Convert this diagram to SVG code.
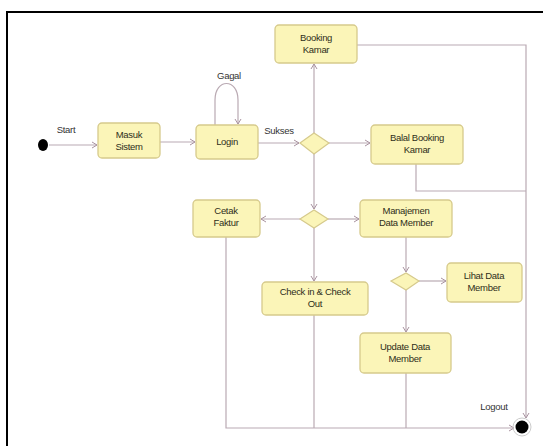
<svg xmlns="http://www.w3.org/2000/svg" width="543" height="446" viewBox="0 0 543 446">
<style>
.node rect{fill:#fbf5b8;stroke:#d6ca8c;stroke-width:1.3}
.node polygon{fill:#fbf5b8;stroke:#d6ca8c;stroke-width:1.2}
text{font-family:"Liberation Sans",Arial,sans-serif;font-size:9.5px;fill:#2e2e1a;text-anchor:middle;letter-spacing:-0.3px}
.lbl{fill:#333}
#connectors path{fill:none;stroke:#baaab3;stroke-width:1.2}
</style>
<defs>
<marker id="arr" markerWidth="8" markerHeight="8" refX="6" refY="4" orient="auto" markerUnits="userSpaceOnUse">
<path d="M1,1 L6,4 L1,7" fill="none" stroke="#a993a0" stroke-width="1"/>
</marker>
</defs>
<rect width="543" height="446" fill="#fff"/>
<path d="M7,446 V12 H543" fill="none" stroke="#000" stroke-width="2"/>

<g id="connectors">
<path d="M49,145 H97" marker-end="url(#arr)"/>
<path d="M160,142 H195" marker-end="url(#arr)"/>
<path d="M258,143 H299" marker-end="url(#arr)"/>
<path d="M215,125 V100 C215,78 238,78 238,100 V124" marker-end="url(#arr)"/>
<path d="M314,133 V64" marker-end="url(#arr)"/>
<path d="M329,143 H370" marker-end="url(#arr)"/>
<path d="M314,154 V209" marker-end="url(#arr)"/>
<path d="M300,219 H261" marker-end="url(#arr)"/>
<path d="M328,219 H359" marker-end="url(#arr)"/>
<path d="M314,228 V281" marker-end="url(#arr)"/>
<path d="M406,237 V272" marker-end="url(#arr)"/>
<path d="M419,281 H446" marker-end="url(#arr)"/>
<path d="M406,290 V332" marker-end="url(#arr)"/>
<path d="M357,45 H526 V418" marker-end="url(#arr)"/>
<path d="M416,164 V191 H526"/>
<path d="M226,237 V428 H514" marker-end="url(#arr)"/>
<path d="M314,315 V428"/>
<path d="M406,373 V428"/>
</g>

<g id="start"><ellipse cx="43" cy="145" rx="5" ry="6" fill="#000"/></g>
<text class="lbl" x="66" y="133">Start</text>
<text class="lbl" x="229" y="79">Gagal</text>
<text class="lbl" x="279" y="134">Sukses</text>
<text class="lbl" x="494" y="410">Logout</text>

<g id="masuk" class="node"><rect x="98" y="123" width="62" height="35" rx="4"/><text x="129" y="138">Masuk</text><text x="129" y="150">Sistem</text></g>
<g id="login" class="node"><rect x="196" y="125" width="62" height="34" rx="4"/><text x="227" y="145">Login</text></g>
<g id="booking" class="node"><rect x="275" y="25" width="82" height="38" rx="4"/><text x="316" y="41">Booking</text><text x="316" y="53">Kamar</text></g>
<g id="dec1" class="node"><polygon points="300,143 314,133 329,143 314,154"/></g>
<g id="batal" class="node"><rect x="371" y="125" width="92" height="39" rx="4"/><text x="417" y="141">Balal Booking</text><text x="417" y="153">Kamar</text></g>
<g id="dec2" class="node"><polygon points="300,219 314,210 328,219 314,228"/></g>
<g id="cetak" class="node"><rect x="193" y="200" width="67" height="37" rx="4"/><text x="226" y="214">Cetak</text><text x="226" y="226">Faktur</text></g>
<g id="manajemen" class="node"><rect x="360" y="200" width="92" height="37" rx="4"/><text x="406" y="214">Manajemen</text><text x="406" y="226">Data Member</text></g>
<g id="checkin" class="node"><rect x="262" y="282" width="106" height="33" rx="4"/><text x="315" y="295">Check in &amp; Check</text><text x="315" y="307">Out</text></g>
<g id="dec3" class="node"><polygon points="391,281 406,273 419,281 406,290"/></g>
<g id="lihat" class="node"><rect x="447" y="263" width="75" height="39" rx="4"/><text x="484" y="279">Lihat Data</text><text x="484" y="291">Member</text></g>
<g id="update" class="node"><rect x="360" y="333" width="91" height="40" rx="4"/><text x="405" y="350">Update Data</text><text x="405" y="362">Member</text></g>
<g id="end"><circle cx="522" cy="427" r="9" fill="none" stroke="#ccc" stroke-width="1"/><circle cx="522" cy="427" r="6.5" fill="#000"/></g>
</svg>
